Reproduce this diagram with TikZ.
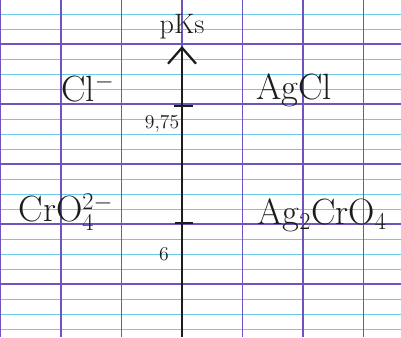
\documentclass[tikz,border=0pt]{standalone}
\usepackage{tikz}
\usetikzlibrary{arrows.meta}
\definecolor{seyesviolet}{RGB}{112,84,190}
\definecolor{seyesbleu}{RGB}{110,200,232}
\definecolor{encre}{RGB}{28,28,28}

\begin{document}
\begin{tikzpicture}[
    x=0.025cm, y=-0.025cm,
    espece/.style={font=\fontsize{26}{30}\selectfont, text=encre, inner sep=0pt},
    valeur/.style={font=\fontsize{14}{16}\selectfont, text=encre, inner sep=0pt},
    axe/.style={-{Straight Barb[length=4mm, width=7mm]}, line width=1.6pt, encre},
    graduation/.style={line width=1.6pt, encre},
    petiteligne/.style={seyesbleu, line width=0.6pt},
    grandeligne/.style={seyesviolet, line width=0.9pt},
]
\useasboundingbox[fill=white] (0,0) rectangle (401,337);

% Papier Seyes
\foreach \k in {-2,...,19} {
    \pgfmathtruncatemacro{\reste}{mod(\k+8,4)}
    \ifnum\reste=0
        \draw[grandeligne] (0,44+15*\k) -- (401,44+15*\k);
    \else
        \draw[petiteligne] (0,44+15*\k) -- (401,44+15*\k);
    \fi
}
\foreach \i in {0,...,6} {
    \draw[grandeligne] (0.5+60.5*\i,0) -- (0.5+60.5*\i,337);
}

% Axe des pKs
\coordinate (axebas) at (182,337);
\coordinate (axehaut) at (182,46);
\draw[axe] (axebas) -- (axehaut);
\node[espece, font=\fontsize{20}{24}\selectfont] (pks) at (182,27) {pKs};

% Graduations
\coordinate (g975a) at (174,106);
\coordinate (g975b) at (193,106);
\draw[graduation] (g975a) -- (g975b);
\node[valeur] (v975) at (162,124) {9,75};

\coordinate (g6a) at (175,223);
\coordinate (g6b) at (193,223);
\draw[graduation] (g6a) -- (g6b);
\node[valeur] (v6) at (164,254) {6};

% Especes
\node[espece] (chlorure) at (88,88) {Cl$^{-}$};
\node[espece] (agcl) at (294,90) {AgCl};
\node[espece] (chromate) at (66,212) {CrO$_4^{2-}$};
\node[espece] (agcro) at (322,215) {Ag$_2$CrO$_4$};
\end{tikzpicture}
\end{document}
